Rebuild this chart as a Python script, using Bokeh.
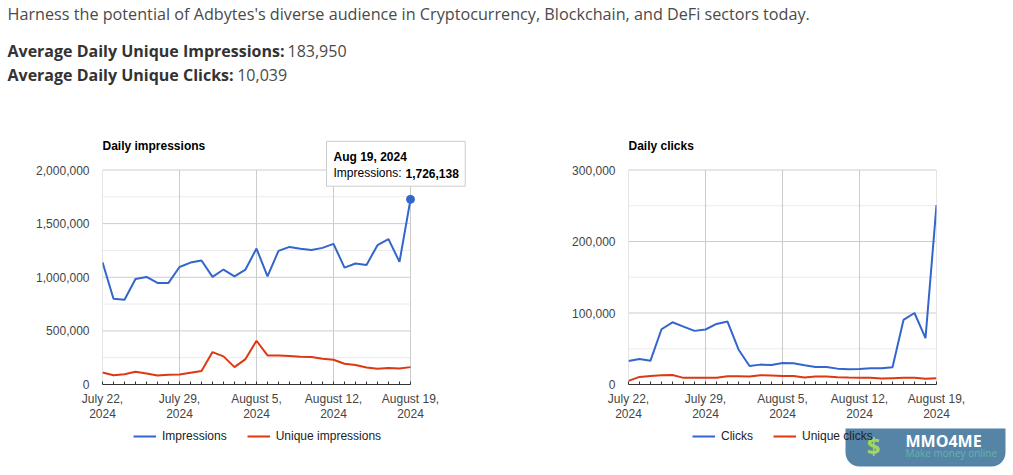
import pandas as pd
from bokeh.plotting import figure
from bokeh.models import (Range1d, FixedTicker, NumeralTickFormatter, Legend,
                          LegendItem, Label, DatetimeAxis, BoxAnnotation)
from bokeh.layouts import column, row
from bokeh.embed import file_html
from bokeh.resources import INLINE

# ---------------- data ----------------
dates = pd.date_range("2024-07-22", "2024-08-19", freq="D")
impressions = [1140000, 800000, 790000, 984000, 1003000, 947000, 947000, 1096000,
               1137000, 1156000, 1003000, 1072000, 1009000, 1072000, 1268000, 1009000,
               1246000, 1283000, 1265000, 1255000, 1274000, 1311000, 1090000, 1128000,
               1115000, 1299000, 1355000, 1143000, 1726138]
unique_impressions = [112000, 87000, 96000, 118000, 103000, 84000, 90000, 93000,
                      109000, 125000, 302000, 262000, 162000, 237000, 408000, 271000,
                      271000, 265000, 259000, 256000, 240000, 231000, 193000, 181000,
                      159000, 146000, 153000, 150000, 162000]
clicks = [32900, 35600, 33300, 77300, 87000, 81000, 75000, 76900, 84700, 88000,
          49000, 25900, 27800, 27300, 30100, 29600, 26900, 24500, 24500, 22200,
          21300, 21800, 22700, 22700, 24100, 90300, 100000, 64800, 251000]
unique_clicks = [5100, 10600, 12000, 13000, 13400, 9300, 9300, 9300, 9300, 11600,
                 11600, 11100, 13000, 12500, 12000, 12000, 9700, 11100, 11100, 10200,
                 9700, 9300, 9300, 8300, 8800, 9300, 9300, 7900, 8800]

tick_dates = ["2024-07-22", "2024-07-29", "2024-08-05", "2024-08-12", "2024-08-19"]
tick_labels_1 = ["July 22,", "July 29,", "August 5,", "August 12,", "August 19,"]
tick_labels_2 = ["2024", "2024", "2024", "2024", "2024"]
imp_ticks = [0, 500000, 1000000, 1500000, 2000000]
imp_minor = [250000, 750000, 1250000, 1750000]
clk_ticks = [0, 100000, 200000, 300000]
clk_minor = [50000, 150000, 250000]

intro_text = ("Harness the potential of Adbytes's diverse audience in Cryptocurrency, "
              "Blockchain, and DeFi sectors today.")
avg_imp_label = "Average Daily Unique Impressions:"
avg_imp_value = "183,950"
avg_clk_label = "Average Daily Unique Clicks:"
avg_clk_value = "10,039"

BLUE = "#3366cc"
RED = "#dc3912"
AXFONT = "Liberation Sans"

# layout constants (pixels)
PLOT_W, PLOT_H = 308, 214.5   # data area of each chart
TOP_PAD = 31.5                # space above data area kept inside frame (tooltip/title)


def ms(d):
    return int(pd.Timestamp(d).timestamp() * 1000)


def style_x(ax, labels, standoff, ticker):
    ax.ticker = ticker
    ax.major_label_overrides = {ms(d): l for d, l in zip(tick_dates, labels)}
    ax.major_tick_in = 0
    ax.major_tick_out = 0
    ax.major_label_standoff = standoff
    ax.major_label_text_font = AXFONT
    ax.major_label_text_font_size = "12px"
    ax.major_label_text_color = "#444444"
    ax.bounds = (ms(dates[0]), ms(dates[-1]))


def make_chart(title, s1, s2, yt, ym, bl, br, extra_right):
    ytop = yt[-1]
    span = dates[-1] - dates[0]
    x_end = dates[-1] + span * (extra_right / PLOT_W)
    y_end = ytop * (PLOT_H + TOP_PAD) / PLOT_H
    p = figure(frame_width=PLOT_W + extra_right, frame_height=int(PLOT_H + TOP_PAD),
               x_axis_type="datetime",
               x_range=Range1d(dates[0], x_end), y_range=Range1d(0, y_end),
               output_backend="svg", toolbar_location=None,
               min_border_left=bl, min_border_right=br,
               min_border_top=18, min_border_bottom=44)
    p.outline_line_color = None
    p.xgrid.visible = False
    p.ygrid.visible = False

    # grid lines, limited to the data area
    p.segment(x0=[dates[0]] * len(ym), y0=ym, x1=[dates[-1]] * len(ym), y1=ym,
              line_color="#ebebeb", line_width=1)
    p.segment(x0=[dates[0]] * (len(yt) - 1), y0=yt[1:], x1=[dates[-1]] * (len(yt) - 1),
              y1=yt[1:], line_color="#cccccc", line_width=1)
    td = pd.to_datetime(tick_dates)
    p.segment(x0=td, y0=[0] * len(td), x1=td, y1=[ytop] * len(td),
              line_color="#cccccc", line_width=1)

    p.line(dates, s1, line_color=BLUE, line_width=2)
    p.line(dates, s2, line_color=RED, line_width=2)

    # title inside the frame
    p.add_layout(Label(x=dates[0], y=ytop, y_offset=24, text=title, text_font=AXFONT,
                       text_font_size="12px", text_font_style="bold",
                       text_color="#000000", text_baseline="alphabetic"))

    xt = FixedTicker(ticks=[ms(d) for d in tick_dates],
                     minor_ticks=[ms(d) for d in dates])
    ax1 = p.xaxis[0]
    style_x(ax1, tick_labels_1, 7, xt)
    ax1.axis_line_color = "#333333"
    ax1.minor_tick_in = 3
    ax1.minor_tick_out = 0
    ax1.minor_tick_line_color = "#333333"

    ax2 = DatetimeAxis()
    style_x(ax2, tick_labels_2, -4, xt)
    ax2.axis_line_color = None
    ax2.minor_tick_line_color = None
    ax2.major_tick_line_color = None
    p.add_layout(ax2, "below")

    p.yaxis.ticker = FixedTicker(ticks=yt, minor_ticks=ym)
    p.yaxis.formatter = NumeralTickFormatter(format="0,0")
    p.yaxis.axis_line_color = None
    p.yaxis.major_tick_line_color = None
    p.yaxis.minor_tick_line_color = None
    p.yaxis.major_label_standoff = 7
    p.yaxis.major_label_text_font = AXFONT
    p.yaxis.major_label_text_font_size = "12px"
    p.yaxis.major_label_text_color = "#444444"
    return p


def make_legend_fig(width, names, x0):
    lf = figure(width=width, height=47, x_range=Range1d(0, width), y_range=Range1d(47, 0),
                output_backend="svg", toolbar_location=None,
                x_axis_location=None, y_axis_location=None, min_border=0)
    lf.outline_line_color = None
    lf.grid.visible = False
    # legend proxies, kept outside the visible range
    a = lf.line(x=[-200, -190], y=[-200, -190], line_color=BLUE, line_width=2)
    b = lf.line(x=[-200, -190], y=[-200, -190], line_color=RED, line_width=2)
    legend = Legend(items=[LegendItem(label=names[0], renderers=[a]),
                           LegendItem(label=names[1], renderers=[b])],
                    orientation="horizontal", location=(x0, 32),
                    glyph_width=23, glyph_height=14, label_standoff=6, spacing=20,
                    label_text_font=AXFONT, label_text_font_size="12px",
                    label_text_color="#222222", border_line_color=None,
                    background_fill_alpha=0, padding=0, margin=0)
    lf.add_layout(legend, "center")
    return lf


# ---------------- header ----------------
h = figure(width=1013, height=120, x_range=Range1d(0, 1013), y_range=Range1d(120, 0),
           output_backend="svg", toolbar_location=None,
           x_axis_location=None, y_axis_location=None, min_border=0)
h.outline_line_color = None
h.grid.visible = False
HF = "Open Sans"
h.add_layout(Label(x=7, y=13, text=intro_text, text_font=HF, text_font_size="16.2px",
                   text_color="#4a4a4a", text_baseline="alphabetic"))
h.add_layout(Label(x=7, y=50, text=avg_imp_label, text_font=HF, text_font_size="16px",
                   text_font_style="bold", text_color="#333333", text_baseline="alphabetic"))
h.add_layout(Label(x=287, y=50, text=avg_imp_value, text_font=HF, text_font_size="16px",
                   text_color="#4a4a4a", text_baseline="alphabetic"))
h.add_layout(Label(x=7, y=74, text=avg_clk_label, text_font=HF, text_font_size="16px",
                   text_font_style="bold", text_color="#333333", text_baseline="alphabetic"))
h.add_layout(Label(x=236.7, y=74, text=avg_clk_value, text_font=HF, text_font_size="16px",
                   text_color="#4a4a4a", text_baseline="alphabetic"))

# ---------------- charts ----------------
p1 = make_chart("Daily impressions", impressions, unique_impressions,
                imp_ticks, imp_minor, 102, 50, 60)
p2 = make_chart("Daily clicks", clicks, unique_clicks,
                clk_ticks, clk_minor, 108, 77, 0)

# tooltip on the last impressions point
px, py = dates[-1], impressions[-1]
p1.scatter([px], [py], size=8, color=BLUE)
p1.add_layout(Label(x=px, y=py, x_offset=-84, y_offset=58,
                    text="Aug 19, 2024\nImpressions: " + f"{py:,}",
                    text_color="white", text_font=AXFONT, text_font_size="12px",
                    text_align="left", text_baseline="top",
                    background_fill_color="white", border_line_color="#cccccc",
                    padding=7, level="overlay"))
p1.add_layout(Label(x=px, y=py, x_offset=-77, y_offset=42, text="Aug 19, 2024",
                    text_font=AXFONT, text_font_size="12px", text_font_style="bold",
                    text_color="#000000", text_baseline="alphabetic", level="overlay"))
p1.add_layout(Label(x=px, y=py, x_offset=-77, y_offset=26, text="Impressions: ",
                    text_font=AXFONT, text_font_size="12px",
                    text_color="#000000", text_baseline="alphabetic", level="overlay"))
p1.add_layout(Label(x=px, y=py, x_offset=-5, y_offset=26, text=f"{py:,}",
                    text_font=AXFONT, text_font_size="12px", text_font_style="bold",
                    text_color="#000000", text_baseline="alphabetic", level="overlay"))

# ---------------- legends ----------------
l1 = make_legend_fig(520, ["Impressions", "Unique impressions"], 133)
l2 = make_legend_fig(493, ["Clicks", "Unique clicks"], 172)

# watermark logo (lower part visible in the legend strip)
l2.add_layout(BoxAnnotation(left=325, right=485, top=-23, bottom=38,
                            fill_color="#467aa0", fill_alpha=0.92, line_color=None,
                            border_radius=14, level="overlay"))
l2.add_layout(Label(x=385, y=12, text="MMO4ME", text_font="Open Sans",
                    text_font_size="16px", text_font_style="bold", text_color="white",
                    text_baseline="alphabetic", level="overlay"))
l2.add_layout(Label(x=385, y=24, text="Make money online", text_font="Open Sans",
                    text_font_size="10px", text_color="#5fb7a5",
                    text_baseline="alphabetic", level="overlay"))
l2.add_layout(Label(x=353, y=17, text="$", text_font="Open Sans",
                    text_font_size="24px", text_font_style="bold", text_color="#a3d65c",
                    text_align="center", text_baseline="middle", level="overlay"))

layout = column(h, row(p1, p2), row(l1, l2))
open("out.html", "w").write(file_html(layout, INLINE))
